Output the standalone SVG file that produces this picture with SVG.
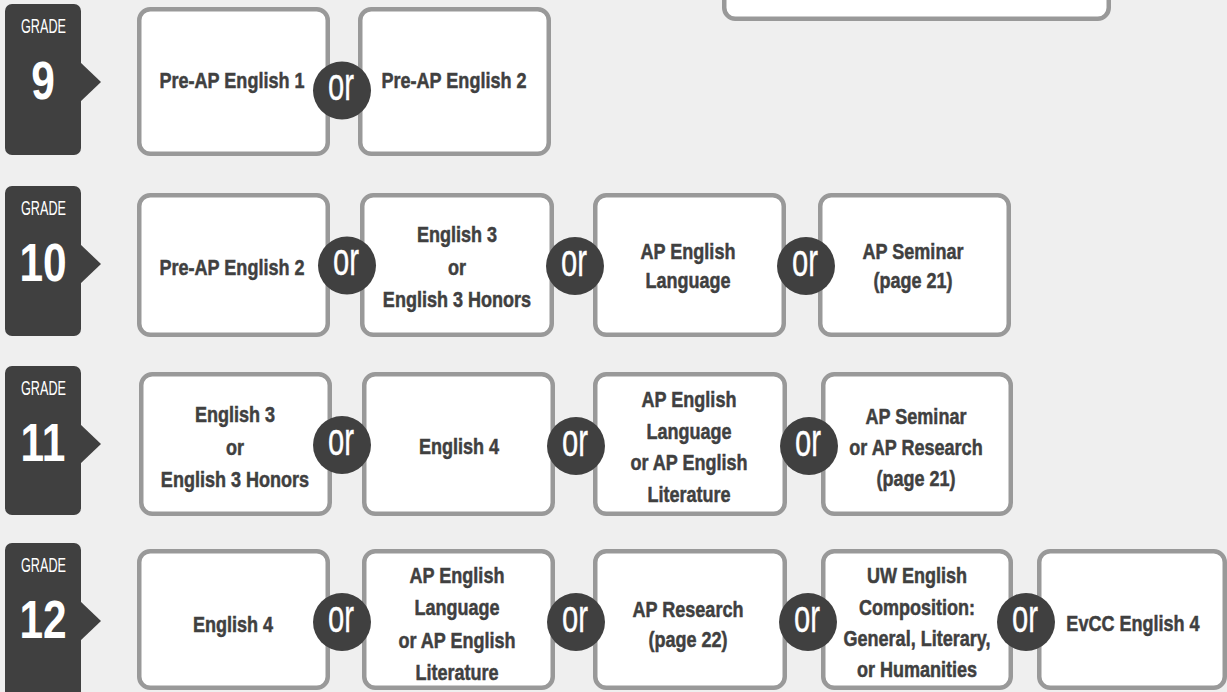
<svg xmlns="http://www.w3.org/2000/svg" width="1227" height="692" viewBox="0 0 1227 692">
<style>
.bg{fill:#efefef}
.box{fill:#fff;stroke:#999;stroke-width:4.5}
.badge{fill:#404040}
.t{font-family:"Liberation Sans",Arial,sans-serif;font-weight:bold;font-size:22px;fill:#404040;stroke:#404040;stroke-width:0.5;text-anchor:middle}
.g{font-family:"Liberation Sans",Arial,sans-serif;font-size:20px;fill:#fff;text-anchor:middle}
.n{font-family:"Liberation Sans",Arial,sans-serif;font-weight:bold;font-size:53px;fill:#fff;text-anchor:middle}
.orc{fill:#404040}
.ort{font-family:"Liberation Sans",Arial,sans-serif;font-size:46px;fill:#fff;stroke:#fff;stroke-width:0.4;text-anchor:middle}
</style>
<rect class="bg" x="0" y="0" width="1227" height="692"/>

<g id="top-box"><rect class="box" x="724.25" y="-100" width="384.5" height="118.75" rx="11"/></g>

<!-- Grade badges -->
<g id="grade9">
<rect class="badge" x="5" y="4" width="76" height="151" rx="7"/>
<polygon class="badge" points="80,62 101,82 80,102"/>
<text class="g" x="43.5" y="33" textLength="45" lengthAdjust="spacingAndGlyphs">GRADE</text>
<text class="n" transform="translate(43 99) scale(.8 1)">9</text>
</g>
<g id="grade10">
<rect class="badge" x="5" y="186" width="76" height="150" rx="7"/>
<polygon class="badge" points="80,244 101,264 80,284"/>
<text class="g" x="43.5" y="215" textLength="45" lengthAdjust="spacingAndGlyphs">GRADE</text>
<text class="n" transform="translate(43 281) scale(.8 1)">10</text>
</g>
<g id="grade11">
<rect class="badge" x="5" y="366" width="76" height="149" rx="7"/>
<polygon class="badge" points="80,424 101,444 80,464"/>
<text class="g" x="43.5" y="395" textLength="45" lengthAdjust="spacingAndGlyphs">GRADE</text>
<text class="n" transform="translate(43 461) scale(.8 1)">11</text>
</g>
<g id="grade12">
<rect class="badge" x="5" y="543" width="76" height="170" rx="7"/>
<polygon class="badge" points="80,601 101,621 80,641"/>
<text class="g" x="43.5" y="572" textLength="45" lengthAdjust="spacingAndGlyphs">GRADE</text>
<text class="n" transform="translate(43 638) scale(.8 1)">12</text>
</g>

<!-- Row 9 -->
<g id="r9c1"><rect class="box" x="139.25" y="9.25" width="188.5" height="144.5" rx="11"/>
<text class="t" transform="translate(232 88) scale(.82 1)">Pre-AP English 1</text></g>
<g id="r9c2"><rect class="box" x="360.25" y="9.25" width="188.5" height="144.5" rx="11"/>
<text class="t" transform="translate(454 88) scale(.82 1)">Pre-AP English 2</text></g>

<!-- Row 10 -->
<g id="r10c1"><rect class="box" x="139.25" y="195.25" width="188.5" height="139.5" rx="11"/>
<text class="t" transform="translate(232 275) scale(.82 1)">Pre-AP English 2</text></g>
<g id="r10c2"><rect class="box" x="362.25" y="195.25" width="189.5" height="139.5" rx="11"/>
<text class="t" transform="translate(457 242) scale(.82 1)">English 3</text>
<text class="t" transform="translate(457 275) scale(.82 1)">or</text>
<text class="t" transform="translate(457 307) scale(.82 1)">English 3 Honors</text></g>
<g id="r10c3"><rect class="box" x="595.25" y="195.25" width="188.5" height="139.5" rx="11"/>
<text class="t" transform="translate(688 259) scale(.82 1)">AP English</text>
<text class="t" transform="translate(688 288) scale(.82 1)">Language</text></g>
<g id="r10c4"><rect class="box" x="820.25" y="195.25" width="188.5" height="139.5" rx="11"/>
<text class="t" transform="translate(913 259) scale(.82 1)">AP Seminar</text>
<text class="t" transform="translate(913 288) scale(.82 1)">(page 21)</text></g>

<!-- Row 11 -->
<g id="r11c1"><rect class="box" x="141.25" y="374.25" width="188.5" height="139.5" rx="11"/>
<text class="t" transform="translate(235 422) scale(.82 1)">English 3</text>
<text class="t" transform="translate(235 455) scale(.82 1)">or</text>
<text class="t" transform="translate(235 487) scale(.82 1)">English 3 Honors</text></g>
<g id="r11c2"><rect class="box" x="364.25" y="374.25" width="188.5" height="139.5" rx="11"/>
<text class="t" transform="translate(459 454) scale(.82 1)">English 4</text></g>
<g id="r11c3"><rect class="box" x="595.25" y="374.25" width="189.5" height="139.5" rx="11"/>
<text class="t" transform="translate(689 407) scale(.82 1)">AP English</text>
<text class="t" transform="translate(689 438.5) scale(.82 1)">Language</text>
<text class="t" transform="translate(689 470) scale(.82 1)">or AP English</text>
<text class="t" transform="translate(689 502) scale(.82 1)">Literature</text></g>
<g id="r11c4"><rect class="box" x="823.25" y="374.25" width="187.5" height="139.5" rx="11"/>
<text class="t" transform="translate(916 424) scale(.82 1)">AP Seminar</text>
<text class="t" transform="translate(916 455) scale(.82 1)">or AP Research</text>
<text class="t" transform="translate(916 486) scale(.82 1)">(page 21)</text></g>

<!-- Row 12 -->
<g id="r12c1"><rect class="box" x="139.25" y="551.25" width="188.5" height="136.5" rx="11"/>
<text class="t" transform="translate(233 632) scale(.82 1)">English 4</text></g>
<g id="r12c2"><rect class="box" x="364.25" y="551.25" width="188.5" height="136.5" rx="11"/>
<text class="t" transform="translate(457 583) scale(.82 1)">AP English</text>
<text class="t" transform="translate(457 615) scale(.82 1)">Language</text>
<text class="t" transform="translate(457 648) scale(.82 1)">or AP English</text>
<text class="t" transform="translate(457 680) scale(.82 1)">Literature</text></g>
<g id="r12c3"><rect class="box" x="595.25" y="551.25" width="189.5" height="136.5" rx="11"/>
<text class="t" transform="translate(688 617) scale(.82 1)">AP Research</text>
<text class="t" transform="translate(688 647) scale(.82 1)">(page 22)</text></g>
<g id="r12c4"><rect class="box" x="823.25" y="551.25" width="187.5" height="136.5" rx="11"/>
<text class="t" transform="translate(917 583) scale(.82 1)">UW English</text>
<text class="t" transform="translate(917 615) scale(.82 1)">Composition:</text>
<text class="t" transform="translate(917 646) scale(.82 1)">General, Literary,</text>
<text class="t" transform="translate(917 677) scale(.82 1)">or Humanities</text></g>
<g id="r12c5"><rect class="box" x="1039.25" y="551.25" width="185.5" height="136.5" rx="11"/>
<text class="t" transform="translate(1133 631) scale(.82 1)">EvCC English 4</text></g>

<!-- "or" connectors -->
<g id="connectors">
<circle class="orc" cx="342" cy="90.5" r="29"/><text class="ort" x="341" y="100" textLength="26" lengthAdjust="spacingAndGlyphs">or</text>
<circle class="orc" cx="347" cy="265.5" r="29"/><text class="ort" x="346" y="275" textLength="26" lengthAdjust="spacingAndGlyphs">or</text>
<circle class="orc" cx="575" cy="266" r="29"/><text class="ort" x="574" y="276" textLength="26" lengthAdjust="spacingAndGlyphs">or</text>
<circle class="orc" cx="806" cy="266" r="29"/><text class="ort" x="805" y="276" textLength="26" lengthAdjust="spacingAndGlyphs">or</text>
<circle class="orc" cx="342" cy="445" r="29"/><text class="ort" x="341" y="455" textLength="26" lengthAdjust="spacingAndGlyphs">or</text>
<circle class="orc" cx="576" cy="446" r="29"/><text class="ort" x="575" y="456" textLength="26" lengthAdjust="spacingAndGlyphs">or</text>
<circle class="orc" cx="809" cy="446" r="29"/><text class="ort" x="808" y="456" textLength="26" lengthAdjust="spacingAndGlyphs">or</text>
<circle class="orc" cx="342" cy="622" r="29"/><text class="ort" x="341" y="632" textLength="26" lengthAdjust="spacingAndGlyphs">or</text>
<circle class="orc" cx="576" cy="622" r="29"/><text class="ort" x="575" y="632" textLength="26" lengthAdjust="spacingAndGlyphs">or</text>
<circle class="orc" cx="808" cy="622" r="29"/><text class="ort" x="807" y="632" textLength="26" lengthAdjust="spacingAndGlyphs">or</text>
<circle class="orc" cx="1026" cy="622" r="29"/><text class="ort" x="1025" y="632" textLength="26" lengthAdjust="spacingAndGlyphs">or</text>
</g>
</svg>
